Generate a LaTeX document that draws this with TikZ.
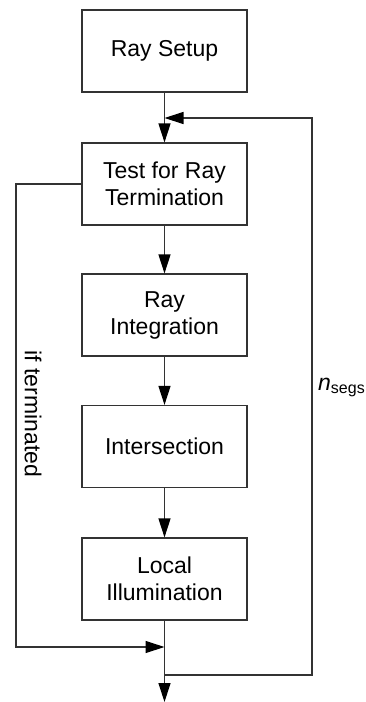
\documentclass[tikz,border=0pt]{standalone}
\usepackage{fontspec}
\setmainfont{Liberation Sans}
\usepackage{tikz}
\usetikzlibrary{arrows.meta}

\tikzset{
  stepbox/.style={draw=black!80, line width=1.2pt, rectangle, minimum width=165pt,
    minimum height=82pt, inner sep=0pt, align=center,
    font=\fontsize{23}{27}\selectfont},
  flow/.style={draw=black!80, line width=1.2pt},
  arr/.style={flow, -{Triangle[length=19pt,width=12pt,color=black]}},
  lbl/.style={inner sep=0pt, font=\fontsize{23}{27}\selectfont}
}

\begin{document}
\begin{tikzpicture}[x=1pt,y=-1pt]
        \useasboundingbox (0,0) rectangle (365,702);

        % Stages
        \node[stepbox] (setup) at (164.5,51) {Ray Setup};
        \node[stepbox] (test) at (164.5,184) {Test for Ray\\Termination};
        \node[stepbox] (integ) at (164.5,315) {Ray\\Integration};
        \node[stepbox] (isect) at (164.5,446.5) {Intersection};
        \node[stepbox] (local) at (164.5,579) {Local\\Illumination};

        % Junctions
        \coordinate (merge) at (164.5,118);
        \coordinate (join) at (164.5,647);
        \coordinate (exit) at (164.5,675);
        \coordinate (out) at (164.5,702);
        \coordinate (leftrail) at (16,647);
        \coordinate (rbot) at (312,675);
        \coordinate (rtop) at (312,118);

        % Edges
        \draw[flow] (setup) -- (merge);
        \draw[arr] (merge) -- (test);
        \draw[arr] (test) -- (integ);
        \draw[arr] (integ) -- (isect);
        \draw[arr] (isect) -- (local);
        \draw[flow] (local) -- (exit);
        \draw[arr] (exit) -- (out);
        \draw[arr] (test.west) -| (leftrail) -- (join);
        \draw[arr] (exit) -- (rbot) -- (rtop) -- (merge);

        % Labels
        \node[lbl, rotate=-90] (term) at (33,414) {if terminated};
        \node[lbl, anchor=base west] (nseg) at (318,390) {\textit{n}\textsubscript{\fontsize{16}{18}\selectfont segs}};
\end{tikzpicture}
\end{document}
